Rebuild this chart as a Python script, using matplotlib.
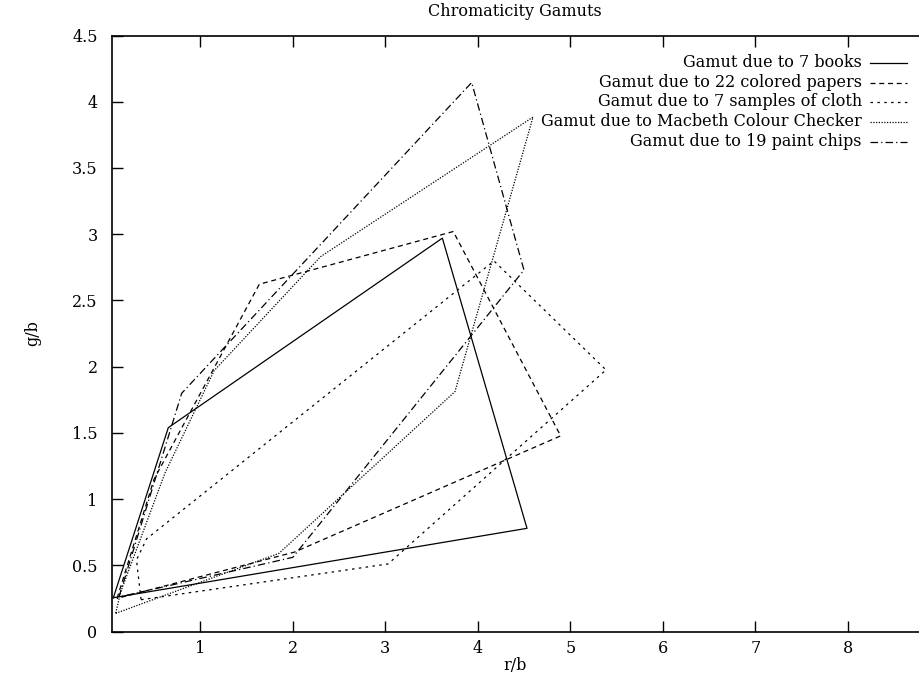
import matplotlib
matplotlib.use("Agg")
import matplotlib.pyplot as plt
from matplotlib.lines import Line2D

plt.rcParams['font.family'] = ['DejaVu Serif']

# ---- data (r/b, g/b vertices of each gamut polygon) ----
books_r = [0.06, 0.654, 3.617, 4.532, 0.06]
books_g = [0.255, 1.539, 2.970, 0.779, 0.255]

papers_r = [0.10, 0.50, 1.638, 3.735, 4.896, 2.02, 0.10]
papers_g = [0.25, 1.15, 2.622, 3.020, 1.477, 0.60, 0.25]

cloth_r = [0.36, 3.03, 5.386, 4.175, 0.42, 0.31, 0.36]
cloth_g = [0.24, 0.51, 1.975, 2.798, 0.70, 0.54, 0.24]

macbeth_r = [0.085, 1.85, 3.753, 4.597, 2.30, 1.15, 0.62, 0.14, 0.085]
macbeth_g = [0.137, 0.59, 1.811, 3.884, 2.83, 1.97, 1.20, 0.30, 0.137]

chips_r = [0.12, 0.799, 3.934, 4.499, 2.00, 0.12]
chips_g = [0.26, 1.799, 4.145, 2.729, 0.56, 0.26]

labels = ["Gamut due to 7 books",
          "Gamut due to 22 colored papers",
          "Gamut due to 7 samples of cloth",
          "Gamut due to Macbeth Colour Checker",
          "Gamut due to 19 paint chips"]

x_ticks = [1, 2, 3, 4, 5, 6, 7, 8]
y_ticks = [0, 0.5, 1, 1.5, 2, 2.5, 3, 3.5, 4, 4.5]
y_ticklabels = ["0", "0.5", "1", "1.5", "2", "2.5", "3", "3.5", "4", "4.5"]

styles = ['-', (0, (4, 3)), (0, (2, 3.5)), (0, (1, 1.2)), (0, (6, 2.5, 1, 2.5))]

W, H = 919, 678
fig = plt.figure(figsize=(W / 100, H / 100), dpi=100)
ax = fig.add_axes([111.5 / W, 1 - 631.5 / H, (W - 111.5) / W, (631.5 - 35.5) / H])

series = [(books_r, books_g), (papers_r, papers_g), (cloth_r, cloth_g),
          (macbeth_r, macbeth_g), (chips_r, chips_g)]
for (xs, ys), ls in zip(series, styles):
    ax.plot(xs, ys, color='black', lw=0.9, linestyle=ls)

ax.set_xlim(0.04, 8.77)
ax.set_ylim(0, 4.5)
ax.set_xticks(x_ticks)
ax.set_xticklabels([str(v) for v in x_ticks])
ax.set_yticks(y_ticks)
ax.set_yticklabels(y_ticklabels)
ax.tick_params(direction='in', length=8, width=1, top=True, right=False,
               labelsize=11.5)
ax.tick_params(axis='x', pad=6)
ax.tick_params(axis='y', pad=10)
for s in ['left', 'bottom', 'top']:
    ax.spines[s].set_linewidth(1.2)
ax.spines['right'].set_visible(False)

ax.set_xlabel("r/b", fontsize=11.5, labelpad=0)
ax.set_ylabel("g/b", fontsize=11.5, labelpad=22)
ax.set_title("Chromaticity Gamuts", fontsize=11.5, pad=14)

# manual right-aligned legend
row_y = [62.5, 82.5, 102, 122, 141.5]
for lab, ls, py in zip(labels, styles, row_y):
    fy = 1 - py / H
    fig.text(862 / W, fy, lab, ha='right', va='center', fontsize=11.5)
    fig.add_artist(Line2D([870 / W, 907 / W], [fy, fy], color='black',
                          lw=0.9, linestyle=ls, transform=fig.transFigure))

fig.savefig("out.png", dpi=100)
